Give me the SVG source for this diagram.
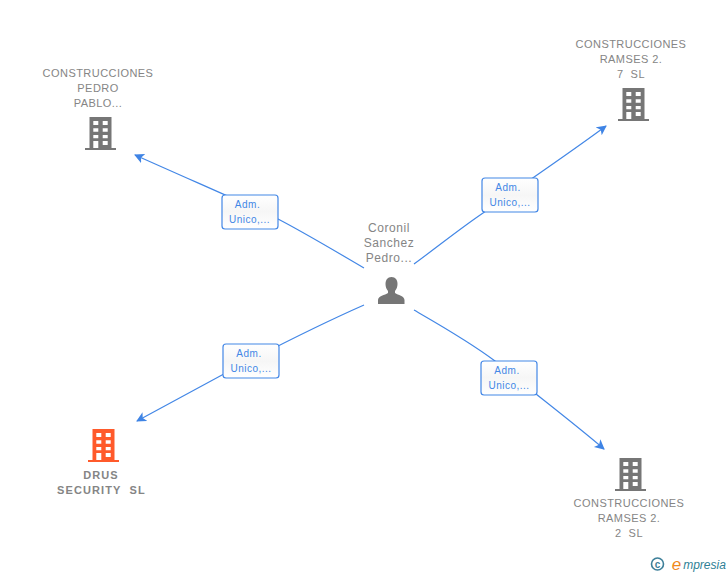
<svg xmlns="http://www.w3.org/2000/svg" width="728" height="575" viewBox="0 0 728 575">
<style>
text{font-family:"Liberation Sans",Arial,sans-serif;text-anchor:middle;white-space:pre}
.n{font-size:11px;fill:#858585;letter-spacing:.45px}
.b{font-weight:700;letter-spacing:1.1px}
.p{font-size:12px;fill:#858585;letter-spacing:.55px}
.e{fill:none;stroke:#4387e6;stroke-width:1.200;marker-end:url(#a)}
.l{fill:url(#g);stroke:#4387e6;stroke-width:1.200}
.t{font-size:10px;fill:#4387e6;letter-spacing:.5px}
</style>
<defs>
<linearGradient id="g" x1="0" y1="0" x2="0" y2="1"><stop offset="0" stop-color="#fff"/><stop offset=".5" stop-color="#f6f6f6"/><stop offset="1" stop-color="#fff"/></linearGradient>
<marker id="a" markerUnits="userSpaceOnUse" markerWidth="12" markerHeight="12" refX="9" refY="5" orient="auto"><path d="M0 0L10 5L0 10L2.500 5Z" fill="#3f84e5"/></marker>
<path id="bd" fill-rule="evenodd" d="M4.500 0H26.500V31H31V33H0V31H4.500ZM8.300 4V8H13.300V4ZM17.700 4V8H22.700V4ZM8.300 11.300V14.700H13.300V11.300ZM17.700 11.300V14.700H22.700V11.300ZM8.300 18V21.300H13.300V18ZM17.700 18V21.300H22.700V18ZM8.300 24V31H13.300V24ZM17.700 24V28H22.700V24Z"/>
</defs>
<rect width="728" height="575" fill="#fff"/>
<g id="connectors">
<path class="e" d="M364 268C335 251 305 233 278 219C262 211 200 184 135 155"/>
<path class="e" d="M414 264C440 245 462 227 486 211C510 193 560 160 606 126"/>
<path class="e" d="M364 305C330 320 275 347 222 375C200 387 170 403 137 421"/>
<path class="e" d="M414 310C440 325 470 342 495 361C530 390 570 420 604 449"/>
</g>
<g id="edge-label-1"><rect class="l" x="222" y="195" width="56" height="34" rx="3"/><text class="t" x="247.500" y="208">Adm.</text><text class="t" x="249.500" y="223">Unico,...</text></g>
<g id="edge-label-2"><rect class="l" x="482" y="178" width="56" height="34" rx="3"/><text class="t" x="508" y="191">Adm.</text><text class="t" x="510" y="206">Unico,...</text></g>
<g id="edge-label-3"><rect class="l" x="223" y="344" width="56" height="34" rx="3"/><text class="t" x="249" y="357">Adm.</text><text class="t" x="251" y="372">Unico,...</text></g>
<g id="edge-label-4"><rect class="l" x="481" y="361" width="56" height="34" rx="3"/><text class="t" x="507" y="374">Adm.</text><text class="t" x="509" y="389">Unico,...</text></g>
<g id="node-person">
<text class="p" x="389" y="232">Coronil</text><text class="p" x="389" y="247">Sanchez</text><text class="p" x="389" y="262">Pedro...</text>
<path fill="#767676" d="M391.500 277C395.500 277 397.500 280 397.500 284C397.500 287 396.500 289 395 291V293C398 295 404.500 296 404.500 300V304H378V300C378 296 385 295 388 293V291C386.500 289 385.500 287 385.500 284C385.500 280 387.500 277 391.500 277Z"/>
</g>
<g id="node-pedro">
<text class="n" x="98" y="77">CONSTRUCCIONES</text><text class="n" x="98" y="92">PEDRO</text><text class="n" x="98" y="107">PABLO...</text>
<use href="#bd" x="85" y="117" fill="#767676"/>
</g>
<g id="node-ramses7">
<text class="n" x="631" y="48">CONSTRUCCIONES</text><text class="n" x="631" y="63">RAMSES 2.</text><text class="n" x="631" y="78">7  SL</text>
<use href="#bd" x="618" y="88" fill="#767676"/>
</g>
<g id="node-drus">
<use href="#bd" x="88" y="429" fill="#ff5a2b"/>
<text class="n b" x="101" y="479">DRUS</text><text class="n b" x="101.500" y="494">SECURITY  SL</text>
</g>
<g id="node-ramses2">
<use href="#bd" x="615" y="458" fill="#767676"/>
<text class="n" x="629" y="507">CONSTRUCCIONES</text><text class="n" x="629" y="522">RAMSES 2.</text><text class="n" x="629" y="537">2  SL</text>
</g>
<g id="logo">
<circle cx="657.500" cy="564" r="6" fill="none" stroke="#3d7f99" stroke-width="1.600"/>
<text x="657.500" y="567.500" style="font-size:10px;font-weight:700;fill:#3d7f99">c</text>
<text x="676.500" y="570" style="font-size:17px;font-style:italic;fill:#f08a1d">e</text>
<text x="704.500" y="569" style="font-size:12px;font-style:italic;fill:#2f7f96;letter-spacing:0">mpresia</text>
</g>
</svg>
